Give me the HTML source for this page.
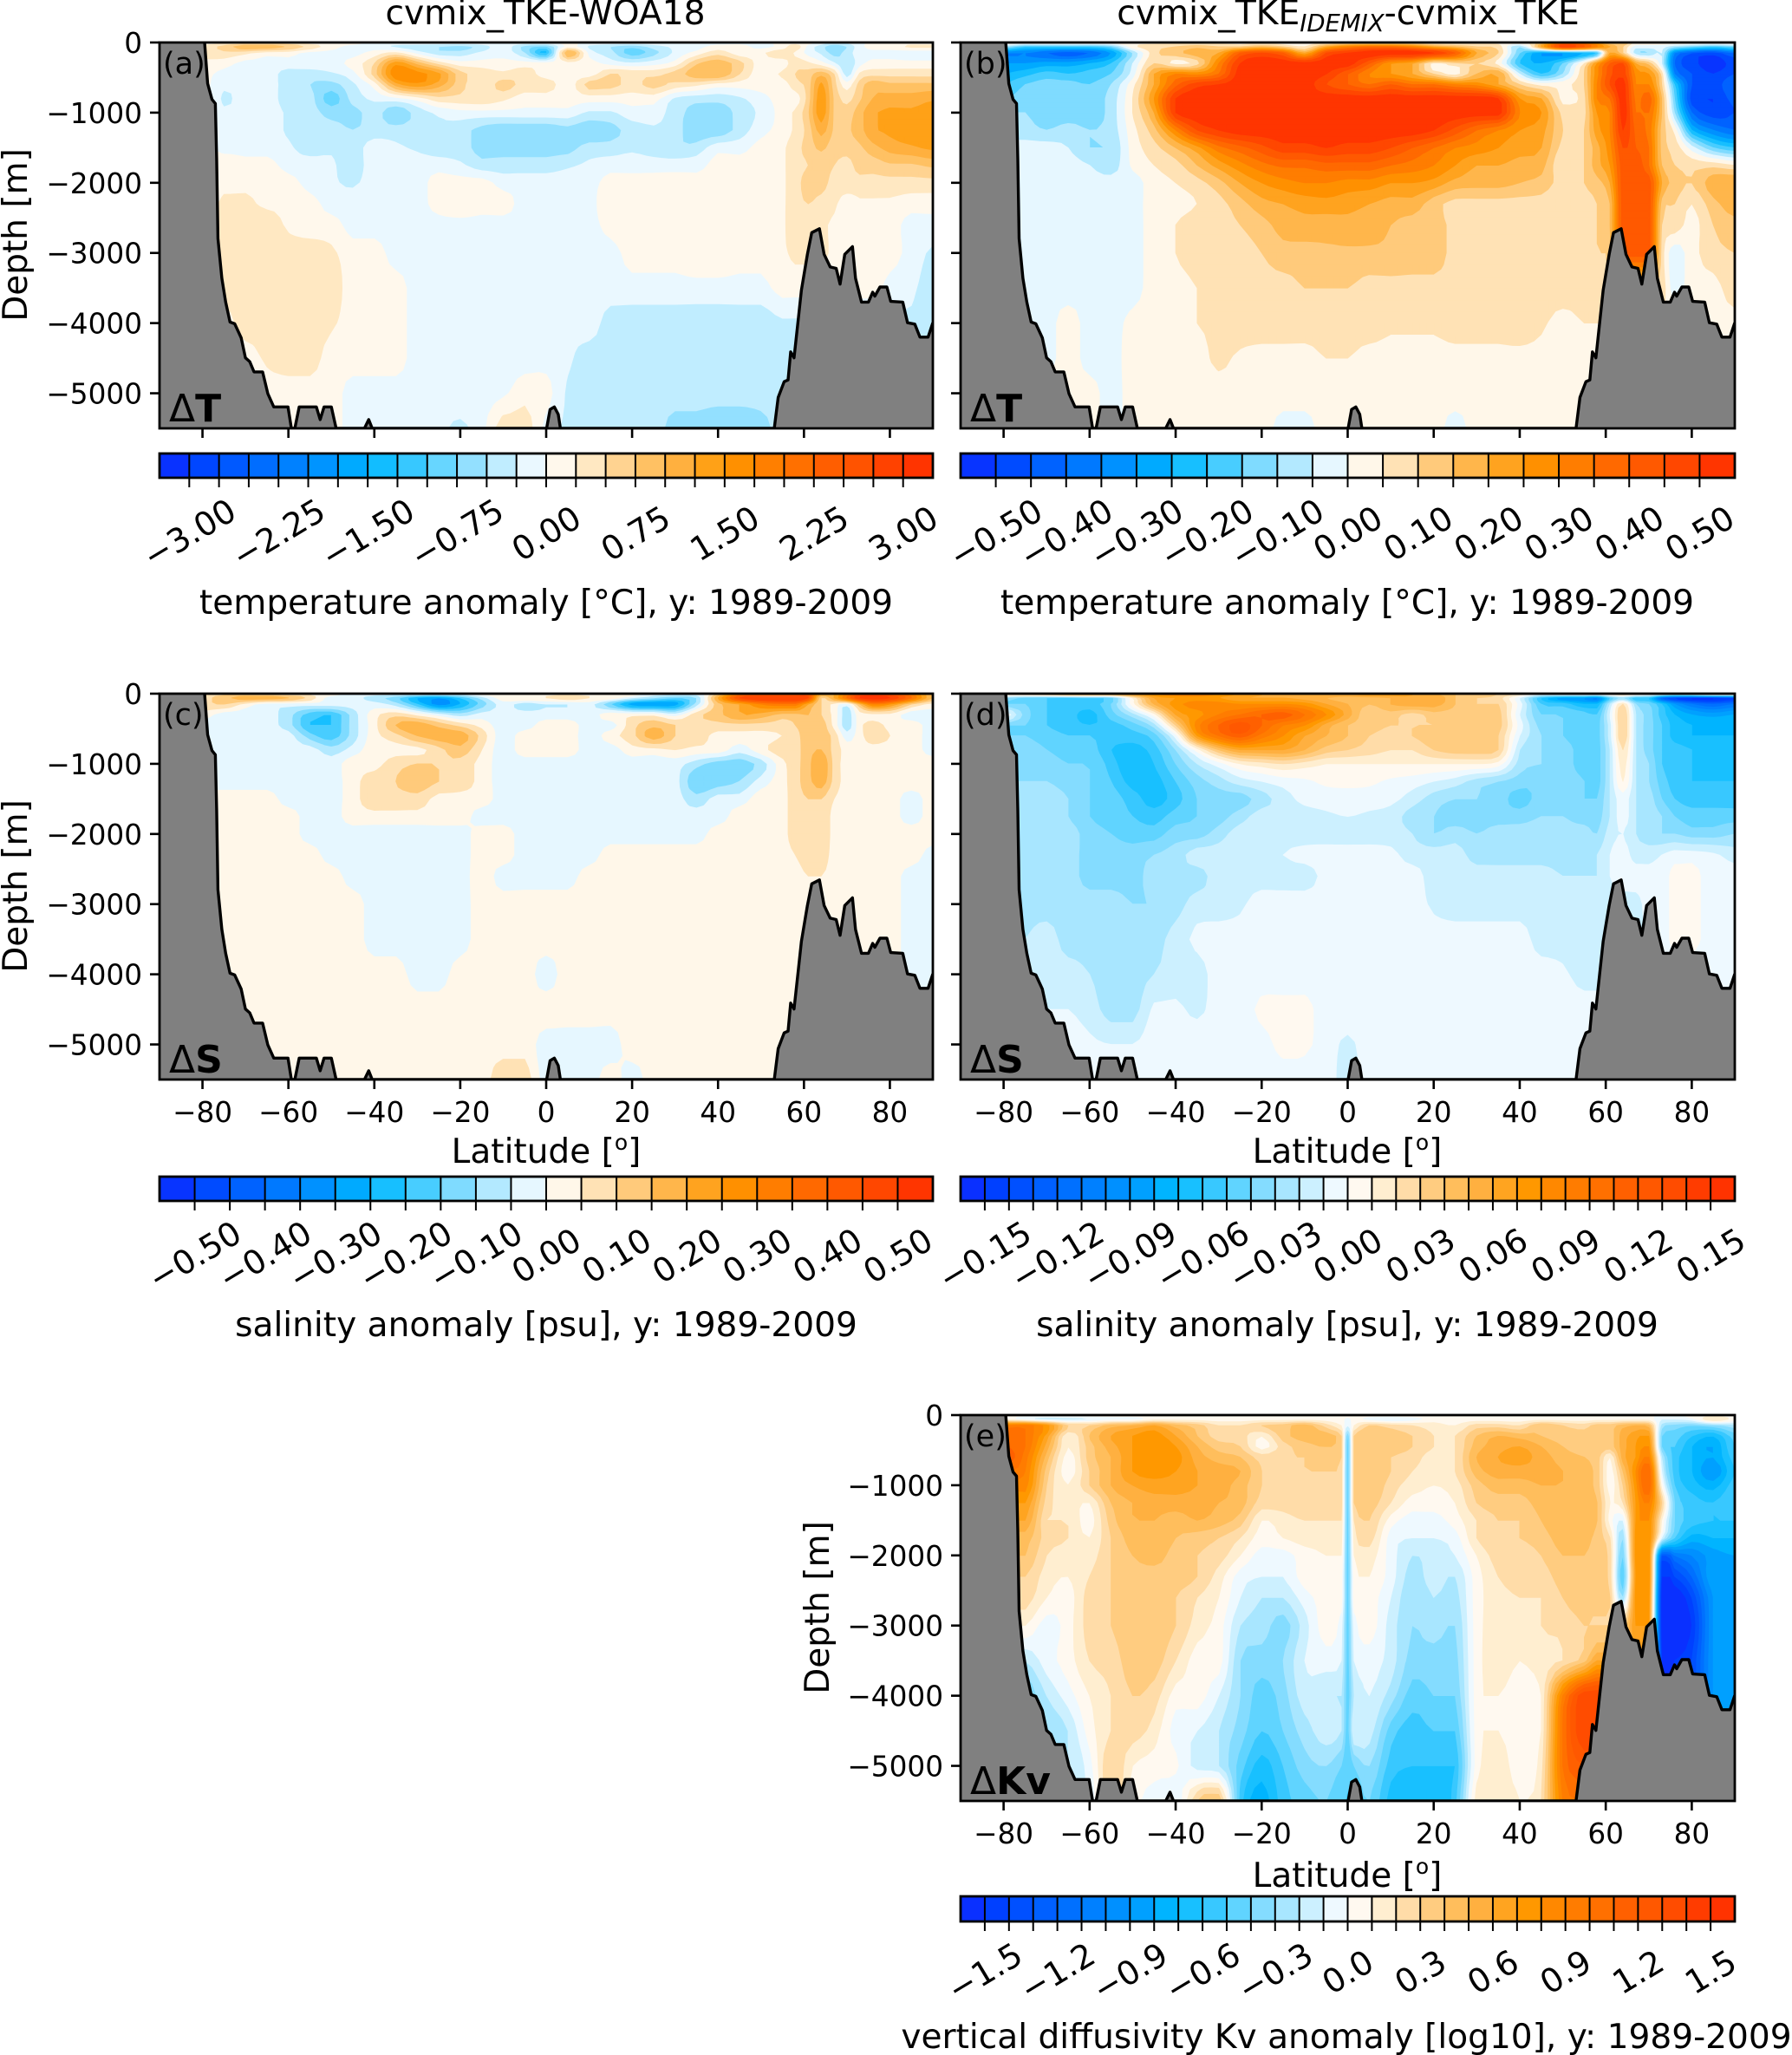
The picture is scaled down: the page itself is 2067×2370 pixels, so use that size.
<!DOCTYPE html>
<html lang="en">
<head>
<meta charset="utf-8">
<title>Ocean zonal-mean anomaly sections</title>
<style>
html,body{margin:0;padding:0;background:#fff;}
svg{display:block;}
text{font-family:"DejaVu Sans","Liberation Sans",sans-serif;fill:#000;}
</style>
</head>
<body>
<svg id="figure" xmlns="http://www.w3.org/2000/svg" width="2067" height="2370" viewBox="0 0 2067 2370">
<rect x="0" y="0" width="2067" height="2370" fill="#fff"/>
<g id="marks"></g>

<text x="629" y="28" font-size="39.2" text-anchor="middle">cvmix_TKE-WOA18</text>
<text x="1555" y="28" font-size="39.2" text-anchor="middle">cvmix_TKE<tspan font-size="27.5" font-style="italic" dy="8">IDEMIX</tspan><tspan dy="-8">-cvmix_TKE</tspan></text>

<text transform="translate(31 271) rotate(-90)" font-size="39" text-anchor="middle">Depth [m]</text>
<text transform="translate(31 1022) rotate(-90)" font-size="39" text-anchor="middle">Depth [m]</text>
<text transform="translate(956 1854) rotate(-90)" font-size="39" text-anchor="middle">Depth [m]</text>

<text x="630" y="1341" font-size="39" text-anchor="middle">Latitude [<tspan font-size="25" dy="-15">o</tspan><tspan dy="15">]</tspan></text>
<text x="1554" y="1341" font-size="39" text-anchor="middle">Latitude [<tspan font-size="25" dy="-15">o</tspan><tspan dy="15">]</tspan></text>
<text x="1554" y="2176" font-size="39" text-anchor="middle">Latitude [<tspan font-size="25" dy="-15">o</tspan><tspan dy="15">]</tspan></text>

<text x="630" y="708" font-size="39.1" text-anchor="middle">temperature anomaly [°C], y: 1989-2009</text>
<text x="1554" y="708" font-size="39.1" text-anchor="middle">temperature anomaly [°C], y: 1989-2009</text>
<text x="630" y="1541" font-size="39.1" text-anchor="middle">salinity anomaly [psu], y: 1989-2009</text>
<text x="1554" y="1541" font-size="39.1" text-anchor="middle">salinity anomaly [psu], y: 1989-2009</text>
<text x="1553" y="2362" font-size="39.1" text-anchor="middle">vertical diffusivity Kv anomaly [log10], y: 1989-2009</text>

<text x="188" y="85" font-size="35">(a)</text>
<text x="1112" y="85" font-size="35">(b)</text>
<text x="188" y="836" font-size="35">(c)</text>
<text x="1112" y="836" font-size="35">(d)</text>
<text x="1112" y="1668" font-size="35">(e)</text>

<text x="195" y="486" font-size="44">Δ<tspan font-weight="bold">T</tspan></text>
<text x="1119" y="486" font-size="44">Δ<tspan font-weight="bold">T</tspan></text>
<text x="195" y="1237" font-size="44">Δ<tspan font-weight="bold">S</tspan></text>
<text x="1119" y="1237" font-size="44">Δ<tspan font-weight="bold">S</tspan></text>
<text x="1119" y="2069" font-size="44">Δ<tspan font-weight="bold">Kv</tspan></text>
</svg>

<script>
/* ---------- shared coordinates (degrees, metres) ---------- */
const depthGrid = [0,60,150,300,450,600,800,1000,1250,1500,1750,2000,2300,2600,3000,3500,4000,4500,5000,5500];
const latGrid = [-80,-75,-70,-65,-60,-55,-50,-45,-40,-35,-30,-25,-20,-15,-10,-5,0,5,10,15,20,25,30,35,40,45,50,55,58,61,64,67,70,73,76,80,85,90];
const latGridKv = [-80,-75,-70,-65,-60,-55,-50,-45,-40,-35,-30,-25,-20,-15,-10,-5,-1.5,0,1.5,5,10,15,20,25,30,35,40,45,50,55,58,61,64,67,70,73,76,80,85,90];

const latTicks = [-80,-60,-40,-20,0,20,40,60,80];
const depthTicks = [0,-1000,-2000,-3000,-4000,-5000];

/* sea-floor profile */
const bathyLat = [-79.5,-78.8,-77.8,-77,-76.7,-76.4,-75.5,-74.6,-73.6,-72.5,-71,-70,-69,-68,-66,-64.8,-63.4,-60.1,-59.3,-58.5,-57.5,-53.5,-52.6,-51.7,-50,-48.9,-42.3,-41.3,-40.5,0.1,0.9,1.9,2.8,3.3,53.1,54,55.4,56.3,56.9,57.7,58.7,59.4,60.8,61.8,63.6,64.7,66.1,67.5,68.4,69.5,71.3,72,73.4,75,76,76.5,77.7,79.3,80.2,83,84.1,85.8,87,88.9,90];
const bathyDepth = [0,584,811,870,1660,2795,3360,3700,3985,4010,4210,4495,4550,4695,4695,5005,5195,5195,5500,5500,5195,5195,5375,5195,5195,5500,5500,5375,5500,5500,5230,5195,5300,5500,5500,5060,4835,4810,4410,4495,3930,3530,3020,2710,2655,3020,3200,3220,3445,3020,2910,3360,3700,3700,3560,3615,3485,3485,3690,3700,3995,4015,4200,4200,3995];

/* ---------- colour-bar definitions ---------- */
const colorbarMaxA = 3.25, colorbarStepA = 0.25;
const colorbarMaxB = 0.55, colorbarStepB = 0.05;
const colorbarMaxC = 0.55, colorbarStepC = 0.05;
const colorbarMaxD = 0.16, colorbarStepD = 0.01;
const colorbarMaxE = 1.6,  colorbarStepE = 0.1;

const colorbarLabelsA = [-3,-2.25,-1.5,-0.75,0,0.75,1.5,2.25,3];
const colorbarLabelsB = [-0.5,-0.4,-0.3,-0.2,-0.1,0,0.1,0.2,0.3,0.4,0.5];
const colorbarLabelsC = [-0.5,-0.4,-0.3,-0.2,-0.1,0,0.1,0.2,0.3,0.4,0.5];
const colorbarLabelsD = [-0.15,-0.12,-0.09,-0.06,-0.03,0,0.03,0.06,0.09,0.12,0.15];
const colorbarLabelsE = [-1.5,-1.2,-0.9,-0.6,-0.3,0,0.3,0.6,0.9,1.2,1.5];

const warmColors = ['#fff9f0','#ffeed0','#ffdca8','#ffcc80','#ffbe5c','#ffb040','#ffa420','#ff9800','#ff8800','#ff7c00','#ff7000','#ff6000','#ff5800','#ff4c00','#ff3c00','#ff3300'];
const coldColors = ['#eef9ff','#ccf0ff','#a8e6ff','#84dcff','#60d4ff','#38c8ff','#18c0ff','#00b4ff','#00a0ff','#0090ff','#0080ff','#0070ff','#0060ff','#0050ff','#0040ff','#0a30ff'];

/* ---------- (a) temperature anomaly, model minus WOA18 [degC]; rows=depthGrid, cols=latGrid ---------- */
const tempModelMinusObs = [
[.1,.1,.3,.3,.3,.1,.1,.1,-.1,-.1,  -.1,-.1,-.1,-.1,-.1,-.1,-.1,.1,-.1,-.1,  -.1,-.1,-.1,-.1,-.1,-.1,-.1,.1,  .1,.1,-.1,-.3,-.2,-.1,.1,.1,.1,.1],
[.3,.6,.9,.9,.7,.4,.1,-.1,-.1,-.3,  -.4,-.5,-.6,-.4,-.1,-.6,-.8,.1,-.3,-.5,  -.7,-.4,-.2,-.1,.1,.1,-.1,.1,  .4,-.1,-.4,-.7,-.5,-.1,.1,.1,.3,.3],
[.3,.4,.3,.1,.1,-.1,-.1,-.1,.1,.3,  -.1,-.4,-.4,-.2,-.1,-.5,-1.3,1,-.1,-.4,  -.9,-.6,-.2,.1,.4,.1,.2,.4,  .2,-.1,-.3,-.6,-.4,-.1,-.1,-.1,-.2,-.2],
[.2,.1,-.1,-.1,-.1,-.1,-.1,.1,.5,1.4,  .9,.4,.1,.1,.1,.1,.1,.1,.1,-.1,  -.2,-.1,.1,.7,.9,.6,.1,.1,  .4,.3,.1,-.2,-.5,-.1,.1,.1,.1,.1],
[.1,-.1,-.1,-.1,-.4,-.4,-.3,-.1,.6,1.7,  1.6,1.3,.6,.4,.3,.4,.1,.1,.1,.5,  .4,.4,.6,.9,1,.5,.1,.3,  .5,.6,.9,.5,-.4,.3,.4,.4,.4,.4],
[.1,-.2,-.1,-.1,-.4,-.5,-.6,-.3,.1,1.1,  1.4,1.1,.6,.3,.6,.4,.4,.1,.6,.6,  .4,.6,.4,.3,.1,.1,.1,.1,  .4,.6,1.3,.6,.1,.6,.9,.8,.8,.8],
[.1,-.3,-.1,-.1,-.4,-.4,-.9,-.4,-.2,-.1,  .1,.4,.4,.4,.3,.1,.1,.1,.1,.1,  .1,.1,-.3,-.4,-.4,-.3,-.1,.1,  .1,.6,1.4,.7,.4,.7,1,1.1,1.1,1.2],
[.1,-.2,-.1,-.1,-.3,-.4,-.6,-.6,-.4,-.7,  -.4,-.2,-.1,-.1,-.1,-.1,-.1,-.1,-.3,-.3,  -.1,-.1,-.4,-.6,-.7,-.4,-.2,.1,  .3,.7,1.4,.7,.6,.9,1.2,1.3,1.3,1.4],
[.1,-.1,-.1,-.1,-.3,-.4,-.4,-.5,-.4,-.4,  -.4,-.3,-.4,-.6,-.7,-.7,-.7,-.6,-.7,-.6,  -.4,-.3,-.4,-.7,-.7,-.4,-.1,.1,  .3,.6,1.1,.7,.7,.9,1.2,1.3,1.4,1.4],
[.1,-.1,-.1,-.1,-.2,-.4,-.3,-.4,-.1,-.2,  -.3,-.4,-.4,-.6,-.6,-.6,-.6,-.6,-.4,-.4,  -.3,-.4,-.5,-.4,-.1,-.1,.1,.2,  .4,.6,.8,.6,.6,.7,.9,1.1,1.2,1.3],
[.1,.2,.1,.1,-.1,-.1,-.2,-.4,-.1,-.1,  -.1,-.1,-.2,-.4,-.4,-.4,-.4,-.3,-.2,-.1,  -.1,-.1,-.1,-.1,.1,.1,.1,.2,  .4,.5,.6,.5,.4,.6,.6,.7,.7,.8],
[.1,.2,.2,.2,.1,-.1,-.2,-.3,-.1,-.1,  -.1,.1,.1,.1,-.1,-.1,-.1,-.1,-.1,.1,  .1,.1,.1,.1,.1,.1,.1,.2,  .4,.6,.6,.4,.4,.4,.4,.4,.4,.4],
[.1,.3,.3,.2,.2,.1,-.1,-.1,-.1,-.1,  -.1,.1,.2,.1,.1,-.1,-.1,-.1,-.1,.2,  .2,.2,.2,.2,.1,.1,.1,.2,  .4,.5,.4,.3,.1,.2,.2,.2,.1,.1],
[.1,.4,.4,.4,.2,.1,.1,-.1,-.1,-.1,  -.1,-.1,-.1,-.1,-.1,-.1,-.1,-.1,-.1,.1,  .2,.2,.2,.2,.2,.1,.1,.2,  .4,.4,.3,.2,.1,.1,.1,.1,-.1,-.1],
[.1,.4,.4,.4,.4,.4,.3,.1,.1,-.1,  -.1,-.1,-.1,-.1,-.1,-.1,-.1,-.1,-.1,-.1,  .1,.1,.1,.2,.2,.1,.1,.2,  .3,.3,.3,.2,.1,.1,.1,.1,-.1,-.3],
[.1,.4,.4,.4,.4,.4,.4,.1,.1,.1,  -.1,-.1,-.1,-.1,-.1,-.1,-.1,-.1,-.1,-.1,  -.1,-.1,-.1,-.1,-.1,-.1,-.1,.1,  .1,.1,.1,.1,.1,.1,.1,-.1,-.2,-.4],
[.1,.1,.4,.4,.4,.4,.3,.1,.1,.1,  -.1,-.1,-.1,-.1,-.1,-.1,-.1,-.2,-.1,-.4,  -.4,-.4,-.4,-.4,-.4,-.4,-.4,-.3,  -.3,-.3,-.3,-.3,-.3,-.3,-.3,-.3,-.3,-.4],
[.1,.1,.1,.3,.4,.4,.1,.1,.1,.1,  -.1,-.1,-.1,-.1,-.1,-.1,-.1,-.2,-.4,-.4,  -.4,-.4,-.4,-.4,-.4,-.4,-.4,-.4,  -.4,-.4,-.4,-.4,-.4,-.4,-.4,-.4,-.4,-.4],
[.1,.1,.1,.1,.1,.1,.1,-.1,-.1,-.1,  -.1,-.1,-.1,-.1,-.05,.15,.1,-.3,-.4,-.4,  -.4,-.4,-.4,-.4,-.4,-.4,-.4,-.4,  -.4,-.4,-.4,-.4,-.4,-.4,-.4,-.4,-.4,-.4],
[.1,.1,.1,.1,.1,.1,.1,-.1,-.1,-.1,  -.2,-.2,-.3,-.1,.4,.4,-.1,-.3,-.4,-.4,  -.4,-.4,-.6,-.6,-.7,-.7,-.6,-.4,  -.4,-.4,-.4,-.4,-.4,-.4,-.4,-.4,-.4,-.4]
];

/* ---------- (b) temperature anomaly, IDEMIX minus TKE [degC] ---------- */
const tempIdemixMinusTke = [
[.03,.03,.03,.03,.03,.03,.03,.03,.03,.03,  .03,.03,.03,.03,.03,.03,.03,.03,.03,.03,  .03,.03,.03,.03,.03,.1,.3,.3,  .2,.1,.15,.03,.03,.03,.03,.03,.03,.03],
[-.1,-.2,-.2,-.2,-.2,-.15,.03,.08,.1,.13,  .1,.1,.15,.1,.05,.2,.3,.35,.35,.3,  .2,.15,.1,.08,-.1,.2,.48,.4,  .3,.2,.1,-.03,-.03,-.03,-.1,-.15,-.2,-.15],
[-.35,-.35,-.4,-.43,-.4,-.3,-.1,.08,.13,.18,  .2,.4,.45,.4,.2,.45,.5,.53,.53,.53,  .5,.4,.2,.1,-.15,-.3,-.3,-.25,  -.2,.2,.1,-.08,-.1,-.05,-.35,-.45,-.48,-.4],
[-.3,-.3,-.28,-.28,-.25,-.2,-.05,.1,.03,.08,  .3,.5,.53,.53,.53,.53,.53,.4,.25,.2,  .03,.08,.1,.03,-.2,-.25,-.15,.05,  .25,.4,.45,.2,.13,-.05,-.4,-.48,-.53,-.48],
[-.25,-.22,-.18,-.2,-.18,-.15,-.03,.2,.3,.28,  .35,.53,.53,.53,.53,.5,.4,.3,.25,.2,  .1,.03,.15,.2,-.05,-.2,-.1,.1,  .28,.43,.48,.28,.25,.08,-.35,-.45,-.5,-.45],
[-.2,-.15,-.13,-.13,-.15,-.1,.03,.2,.38,.48,  .5,.53,.53,.53,.53,.45,.4,.35,.4,.35,  .35,.3,.28,.2,.1,.03,.03,.1,  .3,.45,.53,.3,.3,.1,-.2,-.45,-.48,-.4],
[-.15,-.13,-.13,-.13,-.13,-.08,.05,.25,.5,.53,  .53,.53,.53,.53,.53,.53,.53,.53,.53,.53,  .53,.53,.53,.5,.25,.2,.03,.08,  .3,.35,.53,.33,.38,.15,-.15,-.48,-.5,-.43],
[-.1,-.1,-.13,-.13,-.13,-.08,.05,.2,.5,.53,  .53,.53,.53,.53,.53,.53,.53,.53,.53,.53,  .53,.53,.53,.53,.3,.25,.08,.08,  .25,.3,.53,.35,.35,.15,-.1,-.4,-.48,-.45],
[-.08,-.08,-.1,-.08,-.1,-.08,.03,.13,.3,.45,  .5,.53,.53,.53,.53,.53,.53,.53,.53,.53,  .5,.43,.35,.3,.25,.22,.1,.1,  .23,.3,.5,.38,.33,.13,.03,-.25,-.35,-.4],
[-.03,-.03,-.03,-.05,-.1,-.1,.02,.08,.15,.23,  .33,.38,.43,.48,.48,.5,.48,.48,.45,.4,  .35,.3,.28,.25,.22,.2,.08,.1,  .18,.28,.45,.4,.35,.13,.08,-.03,-.15,-.2],
[-.03,-.03,-.03,-.03,-.05,-.08,.01,.05,.08,.15,  .22,.28,.33,.36,.36,.38,.38,.38,.35,.33,  .3,.25,.2,.2,.18,.17,.05,.1,  .18,.25,.43,.43,.35,.15,.1,.08,.08,.05],
[-.03,-.03,-.03,-.03,-.03,-.03,-.03,.03,.05,.08,  .13,.2,.25,.28,.3,.3,.28,.28,.25,.25,  .23,.18,.17,.17,.15,.13,.08,.1,  .13,.2,.43,.43,.43,.2,.13,.1,.18,.2],
[-.03,-.03,-.03,-.03,-.03,-.03,-.03,.03,.03,.05,  .08,.13,.18,.2,.22,.23,.22,.2,.18,.18,  .12,.08,.08,.08,.08,.08,.05,.08,  .1,.15,.43,.43,.43,.13,.1,.05,.13,.18],
[-.03,-.03,-.03,-.03,-.03,-.03,-.03,.03,.05,.08,  .08,.1,.13,.17,.18,.17,.18,.17,.15,.13,  .13,.08,.08,.08,.08,.08,.08,.08,  .1,.15,.43,.43,.43,.1,.08,.03,.1,.13],
[-.03,-.03,-.03,-.03,-.03,-.03,-.03,.03,.05,.08,  .08,.08,.1,.13,.13,.14,.14,.14,.14,.13,  .13,.08,.08,.08,.08,.08,.08,.08,  .1,.13,.43,.43,.43,.08,-.03,.03,.08,.1],
[-.03,-.03,-.03,-.03,-.03,-.03,-.03,.03,.03,.05,  .08,.08,.08,.08,.1,.1,.1,.08,.08,.08,  .08,.08,.08,.08,.08,.08,.08,.08,  .08,.08,.08,.08,.08,.08,-.03,.03,.03,.08],
[-.03,-.03,-.03,.03,-.03,-.03,.02,.03,.03,.05,  .06,.08,.08,.08,.08,.08,.08,.08,.06,.06,  .06,.08,.08,.08,.09,.06,.03,.05,  .05,.05,.05,.05,.05,.05,.03,.03,.03,.03],
[-.03,-.03,-.03,.03,-.03,-.03,.03,.03,.03,.03,  .06,.04,.03,.03,.03,.05,.05,.03,.03,.03,  .03,.03,.03,.03,.03,.03,.03,.03,  .03,.03,.03,.03,.03,.03,.03,.03,.03,.03],
[.03,.03,.03,.03,.03,-.03,.03,.03,.03,.03,  .03,.03,.03,.03,.03,.03,.03,.03,.03,.03,  .03,.03,.03,.03,.03,.03,.03,.03,  .03,.03,.03,.03,.03,.03,.03,.03,.03,.03],
[.03,.03,.03,.03,.03,-.03,.03,.03,.03,.03,  .03,.03,.03,-.03,-.03,.03,.03,.03,.03,.03,  .03,-.03,.03,.03,.03,.03,.03,.03,  .03,.03,.03,.03,.03,.03,.03,.03,.03,.03]
];

/* ---------- (c) salinity anomaly, model minus WOA18 [psu] ---------- */
const saltModelMinusObs = [
[.08,.08,.08,.05,.03,.03,.03,-.03,-.03,-.03,  -.03,-.03,-.03,.03,.03,.03,.03,.03,.03,.03,  .03,-.03,-.03,-.03,.1,.3,.35,.35,  .35,.4,.2,.2,.3,.4,.45,.4,.3,.15],
[.08,.13,.18,.18,.15,.08,-.03,-.03,-.08,-.13,  -.25,-.3,-.2,-.08,.03,.05,.05,.08,.05,.03,  -.05,-.1,-.15,-.1,.2,.45,.5,.5,  .5,.45,.1,.2,.35,.5,.53,.5,.35,.15],
[.08,.1,.03,-.03,-.03,-.03,-.03,-.03,-.03,-.08,  -.2,-.33,-.25,-.13,-.03,-.08,-.05,-.05,-.03,-.15,  -.28,-.3,-.28,-.08,.13,.2,.3,.33,  .33,.2,.1,.03,-.03,.15,.3,.25,.1,.03],
[.03,-.03,-.03,-.03,-.08,-.18,-.2,-.08,.03,.08,  .03,-.03,-.08,-.03,-.03,-.03,-.03,-.03,-.03,.03,  .03,.03,-.03,.08,.13,.2,.18,.13,  .13,.15,.1,.03,-.08,.03,.03,.03,-.03,-.03],
[-.03,-.03,-.03,-.03,-.08,-.2,-.2,-.08,.03,.15,  .18,.13,.08,.03,-.03,-.03,.03,.03,-.03,-.03,  .08,.13,.1,.08,.08,.08,.08,.08,  .1,.13,.13,.03,-.08,.03,.08,.03,.03,-.03],
[-.03,-.03,-.03,-.03,-.03,-.13,-.18,-.08,.03,.08,  .15,.18,.18,.08,-.03,.03,.03,.03,-.03,.03,  .08,.18,.1,.08,.03,.03,.03,.05,  .08,.13,.13,.08,-.03,.03,.08,.05,.03,-.03],
[-.03,-.03,-.03,-.03,-.03,-.03,-.08,-.03,.03,.03,  .03,.08,.13,.05,-.03,.03,.03,.03,-.03,-.03,  .03,.03,.05,.03,.03,-.03,.03,.08,  .08,.13,.15,.08,.03,.03,.03,.03,.03,-.03],
[-.03,-.03,-.03,-.03,-.03,-.03,-.03,.03,.03,.08,  .1,.1,.08,.03,-.03,-.03,-.03,-.03,-.03,-.03,  -.03,-.03,-.03,-.08,-.13,-.13,-.08,.03,  .08,.13,.2,.08,.03,.03,.03,.03,.03,.03],
[-.03,-.03,-.03,-.03,-.03,-.03,-.03,.03,.08,.1,  .13,.1,.08,.03,-.03,-.03,-.03,-.03,-.03,-.03,  -.03,-.03,-.03,-.15,-.13,-.1,-.03,.03,  .08,.13,.18,.08,.03,.03,.03,.03,.03,.03],
[.03,.03,.03,.03,-.03,-.03,-.03,.03,.08,.08,  .08,.03,.03,.03,-.03,-.03,-.03,-.03,-.03,-.03,  -.03,-.03,-.03,-.08,-.03,-.03,.03,.03,  .08,.1,.1,.05,.03,.03,.03,.03,-.03,.03],
[.03,.03,.03,.03,.03,-.03,-.03,.03,.03,.03,  .03,.03,.03,-.03,-.03,-.03,-.03,-.03,-.03,-.03,  -.03,-.03,-.03,-.03,-.03,.03,.03,.03,  .08,.1,.1,.03,.03,.03,.03,.03,-.03,.03],
[.03,.03,.03,.03,.03,-.03,-.03,-.03,-.03,-.03,  -.03,-.03,-.03,.03,.03,-.03,-.03,-.03,-.03,-.03,  -.03,-.03,-.03,-.03,.03,.03,.03,.03,  .08,.1,.1,.03,.03,.03,.03,.03,.03,.03],
[.03,.03,.03,.03,.03,.03,-.03,-.03,-.03,-.03,  -.03,-.03,-.03,.03,.03,-.03,-.03,-.03,-.03,.03,  .03,.03,.03,.03,.03,.03,.03,.03,  .05,.08,.08,.03,.03,.03,.03,.03,.03,-.03],
[.03,.03,.03,.03,.03,.03,.03,-.03,-.03,-.03,  -.03,-.03,-.03,.03,-.03,-.03,-.03,-.03,.03,.03,  .03,.03,.03,.03,.03,.03,.03,.03,  .03,.05,.05,.03,.03,.03,.03,.03,-.03,-.03],
[.03,.03,.03,.03,.03,.03,.03,.03,-.03,-.03,  -.03,-.03,-.03,.03,.03,.03,.03,.03,.03,.03,  .03,.03,.03,.03,.03,.03,.03,.03,  .03,.03,.03,.03,.03,.03,.03,.03,-.03,-.03],
[.03,.03,.03,.03,.03,.03,.03,.03,-.03,-.03,  -.03,-.03,-.03,.03,.03,.03,.03,.03,.03,.03,  .03,.03,.03,.03,.03,.03,.03,.03,  .03,.03,.03,.03,.03,.03,.03,.03,-.03,-.03],
[.03,.03,.03,.03,.03,.03,.03,.03,.03,.03,  -.03,-.03,.03,.03,.03,.03,-.03,.03,.03,.03,  .03,.03,.03,.03,.03,.03,.03,.03,  .03,.03,.03,.03,.03,.03,.03,.03,-.03,-.03],
[.03,.03,.03,.03,.03,.03,.03,.03,.03,.03,  .03,.03,.03,.03,.03,.03,.03,.03,.03,.03,  .03,.03,.03,.03,.03,.03,.03,.03,  .03,.03,.03,.03,.03,.03,.03,.03,-.03,-.03],
[.03,.03,.03,.03,.03,.03,.03,.03,.03,.03,  .03,.03,.03,.03,.03,.03,-.03,-.03,-.03,-.03,  .03,.03,.03,.03,.03,.03,.03,.03,  .03,.03,.03,.03,.03,.03,.03,.03,.03,.03],
[.03,.03,.03,.03,.03,.03,.03,.03,.03,.03,  .03,.03,.03,.03,.08,.08,-.03,-.03,-.03,.03,  -.03,.03,.03,.03,.03,.03,.03,.03,  .03,.03,.03,.03,.03,.03,.03,.03,.03,.03]
];

/* ---------- (d) salinity anomaly, IDEMIX minus TKE [psu] ---------- */
const saltIdemixMinusTke = [
[.02,.03,.04,.06,.06,.06,.07,.08,.09,.09,  .08,.07,.06,.06,.06,.06,.06,.07,.07,.06,  .05,.04,.04,.03,.02,0,.01,.01,  .01,.02,.03,.02,.01,.01,0,.01,.03,.03],
[-.03,-.045,-.05,-.055,-.05,-.045,.01,.06,.07,.075,  .07,.06,.06,.06,.055,.05,.045,.045,.05,.06,  .06,.04,.03,.025,-.01,-.06,-.085,-.09,  -.1,-.05,-.03,-.06,-.06,-.12,-.14,-.15,-.15,-.14],
[-.04,-.04,-.05,-.055,-.055,-.04,.005,.05,.075,.085,  .085,.08,.08,.08,.075,.06,.05,.04,.05,.055,  .055,.04,.03,.03,-.005,-.05,-.055,-.07,  -.07,-.02,.02,-.03,-.04,-.06,-.09,-.11,-.12,-.11],
[0,-.035,-.05,-.055,-.065,-.045,-.025,.005,.06,.075,  .09,.1,.11,.115,.1,.08,.055,.03,.035,.025,  .035,.035,.04,.035,-.01,-.04,-.04,-.045,  -.05,-.01,.03,-.02,-.035,-.055,-.07,-.08,-.085,-.08],
[-.04,-.04,-.05,-.055,-.06,-.055,-.045,-.025,.03,.085,  .11,.125,.11,.09,.08,.055,.04,.035,.03,.03,  .03,.035,.035,.035,-.005,-.035,-.04,-.045,  -.045,-.015,.03,-.02,-.035,-.05,-.065,-.07,-.07,-.07],
[-.04,-.04,-.045,-.05,-.05,-.055,-.055,-.045,-.005,.07,  .1,.115,.095,.08,.06,.05,.04,.03,.025,.03,  .035,.035,.035,.03,-.01,-.03,-.04,-.045,  -.045,-.015,.03,-.02,-.035,-.05,-.065,-.07,-.07,-.07],
[-.035,-.035,-.04,-.045,-.045,-.06,-.065,-.055,-.03,.005,  .04,.06,.06,.06,.05,.035,.03,.025,.02,.02,  .03,.035,.035,.03,-.02,-.03,-.035,-.045,  -.045,-.02,.02,-.02,-.035,-.05,-.055,-.06,-.065,-.065],
[-.035,-.035,-.035,-.04,-.04,-.055,-.07,-.06,-.04,-.02,  -.005,.01,.015,.02,.015,.01,.01,.01,.01,.01,  .01,.01,.01,.005,-.025,-.03,-.035,-.045,  -.045,-.02,.015,-.02,-.03,-.05,-.055,-.06,-.065,-.065],
[-.03,-.03,-.03,-.035,-.04,-.05,-.065,-.065,-.05,-.035,  -.025,-.015,-.01,-.005,-.002,.002,.003,.002,-.002,-.005,  -.01,-.015,-.025,-.03,-.035,-.04,-.035,-.04,  -.045,-.02,.01,-.02,-.03,-.045,-.055,-.06,-.06,-.06],
[-.025,-.025,-.025,-.03,-.04,-.045,-.055,-.065,-.055,-.04,  -.035,-.035,-.025,-.015,-.007,-.005,-.005,-.005,-.007,-.015,  -.025,-.03,-.03,-.035,-.045,-.035,-.03,-.04,  -.04,-.02,-.005,-.02,-.025,-.04,-.05,-.055,-.055,-.055],
[-.02,-.02,-.025,-.03,-.04,-.045,-.05,-.055,-.045,-.04,  -.035,-.025,-.015,-.015,-.015,-.012,-.01,-.012,-.015,-.025,  -.03,-.035,-.035,-.035,-.035,-.03,-.03,-.035,  -.035,-.02,-.005,-.02,-.025,-.03,-.04,-.045,-.045,-.045],
[-.025,-.025,-.025,-.025,-.035,-.04,-.045,-.045,-.035,-.035,  -.025,-.015,-.015,-.015,-.015,-.015,-.015,-.015,-.015,-.02,  -.03,-.025,-.03,-.025,-.025,-.025,-.025,-.025,  -.03,-.015,-.01,-.02,-.025,-.03,-.03,-.035,-.035,-.03],
[-.025,-.025,-.025,-.025,-.035,-.035,-.035,-.03,-.025,-.015,  -.015,-.015,-.015,-.01,-.007,-.005,-.005,-.005,-.007,-.015,  -.015,-.015,-.025,-.025,-.025,-.025,-.025,-.02,  -.02,-.01,-.005,-.015,-.015,-.01,-.005,-.005,-.008,-.015],
[-.025,-.025,-.025,-.025,-.035,-.035,-.035,-.025,-.025,-.025,  -.015,-.015,-.015,-.015,-.015,-.007,-.005,-.005,-.005,-.005,  -.015,-.015,-.015,-.015,-.015,-.015,-.02,-.02,  -.02,-.01,-.005,-.005,-.005,-.005,.003,.003,-.005,-.005],
[-.025,-.025,-.025,-.025,-.025,-.025,-.03,-.03,-.025,-.015,  -.015,-.012,-.005,-.005,-.005,-.005,-.005,-.005,-.005,-.005,  -.012,-.015,-.015,-.015,-.015,-.015,-.015,-.015,  -.015,-.015,-.015,-.015,-.005,-.005,.003,.003,-.005,-.005],
[-.02,-.02,-.015,-.025,-.025,-.025,-.025,-.025,-.015,-.008,  -.005,-.005,-.005,-.005,-.005,-.005,-.005,-.005,-.005,-.005,  -.005,-.005,-.005,-.005,-.005,-.015,-.015,-.02,  -.02,-.02,-.02,-.02,-.005,-.005,.003,.003,-.005,-.005],
[-.015,-.015,-.015,-.015,-.02,-.025,-.025,-.02,-.015,-.015,  -.005,-.005,-.005,-.005,-.005,-.005,-.005,-.005,-.005,-.005,  -.005,-.005,-.005,-.005,-.005,-.005,-.008,-.015,  -.015,-.015,-.015,-.015,-.015,-.005,-.005,-.005,-.005,-.005],
[-.01,-.01,-.01,-.01,-.015,-.025,-.025,-.008,-.008,-.012,  -.006,-.005,.002,.003,.003,-.005,-.005,-.005,-.005,-.005,  -.005,-.005,-.005,-.005,-.005,-.005,-.005,-.005,  -.005,-.005,-.005,-.005,-.005,-.005,-.005,-.005,-.005,-.005],
[-.005,-.005,-.005,-.005,-.008,-.01,-.01,-.005,-.005,-.005,  -.005,-.005,-.004,.003,.002,-.005,-.012,-.005,-.005,-.005,  -.005,-.005,-.005,-.005,-.005,-.005,-.005,-.005,  -.005,-.005,-.005,-.005,-.005,-.005,-.005,-.005,-.005,-.005],
[-.005,-.005,-.005,-.005,-.005,-.005,-.005,-.005,-.005,-.005,  -.005,-.005,-.005,-.005,-.005,-.005,-.015,-.005,-.005,-.005,  -.005,-.005,-.005,-.005,-.005,-.005,-.005,-.005,  -.005,-.005,-.005,-.005,-.005,-.005,-.005,-.005,-.005,-.005]
];

/* ---------- (e) log10 Kv anomaly; rows=depthGrid, cols=latGridKv ---------- */
const kvIdemixMinusTke = [
[.05,.05,.05,.05,.05,.05,.05,.05,.05,.05,  .05,.05,.05,.05,.05,.05,  .05,.05,.05,  .05,.05,.05,.05,.05,.05,.05,.05,.05,.05,.05,  .05,.05,.05,.05,.05,-.05,-.05,.05,.05,.05],
[.05,-.05,-.15,-.15,-.1,-.05,-.05,.05,.05,.05,  .05,.05,.05,.05,.05,.05,  .05,-.05,.05,  -.05,-.1,-.05,.05,.05,.05,.05,.05,.05,.05,.05,  .05,.05,.05,.05,.05,-.1,-.1,-.05,.2,.05],
[.9,.95,.75,.3,.3,.45,.5,.6,.45,.35,  .2,.2,.3,.35,.45,.25,  .1,-.1,.1,  .3,.25,.2,.15,.1,.25,.25,.2,.4,.3,.25,  .35,.35,.45,.5,.45,-.25,-.35,-.4,-.35,-.25],
[1.1,1,.65,.1,.4,.6,.7,.75,.6,.4,  .25,.25,.1,.35,.45,.45,  .3,-.4,.3,  .4,.35,.3,.2,.2,.4,.5,.45,.4,.35,.35,  .4,.35,.55,.65,.7,-.4,-.45,-.6,-.7,-.45],
[1.1,1,.55,.1,.35,.55,.7,.8,.7,.5,  .35,.3,.05,.25,.35,.4,  .3,-.45,.3,  .4,.35,.3,.2,.2,.45,.55,.6,.5,.4,.35,  .4,.35,.55,.7,.8,-.4,-.5,-.7,-.8,-.5],
[1.2,.95,.45,.05,.35,.5,.7,.8,.75,.55,  .45,.4,.25,.3,.3,.35,  .3,-.45,.3,  .35,.3,.25,.15,.2,.5,.6,.65,.55,.45,.4,  .35,.1,.55,.7,.9,-.2,-.55,-.7,-.8,-.55],
[1,.9,.35,.05,.3,.5,.7,.75,.7,.6,  .55,.5,.3,.3,.3,.3,  .25,-.45,.3,  .4,.3,.2,.15,.2,.45,.55,.55,.55,.5,.45,  .35,.05,.4,.8,1.1,-.1,-.55,-.7,-.9,-.6],
[.85,.85,.3,.1,.3,.5,.6,.65,.65,.6,  .55,.45,.3,.3,.3,.3,  .25,-.45,.3,  .4,.25,.15,.1,.15,.35,.45,.45,.5,.5,.45,  .35,.05,.3,.75,1.1,.05,-.5,-.65,-.75,-.55],
[.7,.7,.25,.15,.1,.4,.5,.55,.55,.55,  .5,.45,.25,.25,.3,.3,  .25,-.45,.3,  .35,.2,.05,.05,.1,.3,.35,.35,.45,.5,.5,  .4,.1,.2,.7,.9,.3,-.4,-.55,-.6,-.5],
[.6,.6,.2,.2,.05,.35,.5,.5,.45,.5,  .45,.35,.1,.15,.2,.2,  .2,-.45,.2,  .3,.05,-.05,-.05,.05,.2,.3,.3,.4,.5,.5,  .4,.05,-.1,.7,.8,.1,-.4,-.55,-.6,-.6],
[.45,.45,.25,.2,.1,.3,.45,.5,.4,.35,  .3,.2,.05,.1,.15,.15,  .15,-.45,.15,  .25,-.05,-.1,-.1,-.05,.2,.3,.3,.35,.45,.45,  .35,.2,-.3,.75,.8,-.1,-.5,-.75,-.7,-.7],
[.4,.4,.2,.15,.15,.3,.4,.45,.35,.3,  .25,.1,-.05,-.05,.05,.1,  .1,-.45,.1,  .15,-.05,-.2,-.15,-.1,.1,.25,.25,.3,.4,.4,  .35,.25,-.4,.75,.8,-1.3,-1.1,-1,-.85,-.8],
[.3,.3,.15,.1,.2,.3,.35,.35,.35,.3,  .15,-.05,-.1,-.1,.05,.1,  .05,-.45,.05,  .1,-.05,-.25,-.15,-.2,.05,.2,.25,.25,.35,.4,  .35,.25,-.5,.7,.8,-1.5,-1.4,-1.2,-.8,-.8],
[.25,.25,.1,.05,.25,.3,.35,.35,.3,.2,  .1,-.1,-.2,-.2,-.05,.05,  .05,-.45,.05,  .05,-.1,-.3,-.2,-.25,.05,.15,.2,.2,.3,.35,  .35,.3,-.3,.75,.75,-1.6,-1.6,-1.4,-.9,-.8],
[.1,.1,-.05,.05,.25,.3,.35,.35,.3,.15,  .05,-.2,-.25,-.35,-.15,.05,  -.05,-.45,-.05,  .05,-.15,-.3,-.25,-.3,.05,.15,.15,.2,.25,.3,  .3,.3,.3,.7,.7,-1.6,-1.6,-1.5,-.9,-.8],
[-.2,-.2,-.05,.05,.2,.25,.35,.35,.2,.05,  .05,-.3,-.35,-.3,-.1,-.05,  -.1,-.45,-.1,  -.05,-.15,-.35,-.35,-.35,.05,.15,.1,.15,.2,.35,  .6,.6,.3,.7,.7,-1.5,-1.5,-1.4,-.9,-.8],
[-.4,-.4,-.2,-.05,.1,.2,.3,.25,.05,.05,  -.1,-.3,-.45,-.35,-.15,-.2,  -.2,-.45,-.2,  -.1,-.25,-.45,-.4,-.4,.05,.1,.05,.1,.9,1.4,  1.4,1.4,1.4,1.4,1.4,-1.5,-1.5,-1.4,-.9,-.8],
[-.3,-.3,-.3,-.2,.05,.2,.25,.15,-.05,-.1,  -.2,-.35,-.5,-.4,-.25,-.15,  -.2,-.45,-.1,  -.15,-.45,-.55,-.5,-.5,.05,.1,.05,.1,1,1.4,  1.4,1.4,1.4,1.4,1.4,-1.5,-1.5,-1.4,-.9,-.8],
[-.2,-.2,-.2,-.2,-.05,.3,.1,.05,.02,-.15,  -.2,-.45,-.65,-.5,-.35,-.3,  -.4,-.5,-.4,  -.3,-.55,-.6,-.6,-.6,.05,.15,.05,.15,1,1.2,  1.2,1.2,1.2,1.2,1.2,-1.5,-1.5,-1.4,-.9,-.8],
[-.1,-.1,-.1,-.1,-.1,.3,.05,-.05,-.1,.3,  .4,-.55,-.75,-.55,-.45,-.4,  -.5,-.5,-.5,  -.4,-.65,-.7,-.7,-.55,.15,.2,.1,.2,.9,1,  1,1,1,1,1,-1.5,-1.5,-1.4,-.9,-.8]
];

/* ---------- layout (pixels, separate from the data) ---------- */
const panelA = {id:'a',L:184,R:1076,T:49,B:494,barT:523,barB:551,lats:latGrid,values:tempModelMinusObs,max:colorbarMaxA,step:colorbarStepA,labels:colorbarLabelsA,dec:2,labelOffset:64,showX:false,showY:true};
const panelB = {id:'b',L:1108,R:2001,T:49,B:494,barT:523,barB:551,lats:latGrid,values:tempIdemixMinusTke,max:colorbarMaxB,step:colorbarStepB,labels:colorbarLabelsB,dec:2,labelOffset:64,showX:false,showY:false};
const panelC = {id:'c',L:184,R:1076,T:800,B:1245,barT:1357,barB:1385,lats:latGrid,values:saltModelMinusObs,max:colorbarMaxC,step:colorbarStepC,labels:colorbarLabelsC,dec:2,labelOffset:63,showX:true,showY:true};
const panelD = {id:'d',L:1108,R:2001,T:800,B:1245,barT:1357,barB:1385,lats:latGrid,values:saltIdemixMinusTke,max:colorbarMaxD,step:colorbarStepD,labels:colorbarLabelsD,dec:2,labelOffset:63,showX:true,showY:false};
const panelE = {id:'e',L:1108,R:2001,T:1632,B:2077,barT:2187,barB:2216,lats:latGridKv,values:kvIdemixMinusTke,max:colorbarMaxE,step:colorbarStepE,labels:colorbarLabelsE,dec:1,labelOffset:58,showX:true,showY:true};

const NS = 'http://www.w3.org/2000/svg';
const marks = document.getElementById('marks');
const SUBDIV = 3;

function svgEl(tag, attrs, parent) {
  const el = document.createElementNS(NS, tag);
  for (const k in attrs) el.setAttribute(k, attrs[k]);
  (parent || marks).appendChild(el);
  return el;
}
function hexToRgb(h) {
  return [parseInt(h.slice(1,3),16), parseInt(h.slice(3,5),16), parseInt(h.slice(5,7),16)];
}
function colormap(t) {
  const list = t >= 0 ? warmColors : coldColors;
  let idx = Math.abs(t) * list.length - 0.5;
  idx = Math.max(0, Math.min(list.length - 1, idx));
  const i = Math.floor(idx), f = idx - i;
  const a = hexToRgb(list[i]), b = hexToRgb(list[Math.min(i + 1, list.length - 1)]);
  return 'rgb(' + a.map((v, k) => Math.round(v + (b[k] - v) * f)).join(',') + ')';
}
function fmtTick(v, dec) {
  const s = Math.abs(v).toFixed(dec);
  return v < 0 ? '\u2212' + s : s;
}

/* clamped Catmull-Rom resampling of one sequence */
function resample(seq, n) {
  const out = [];
  for (let i = 0; i < seq.length - 1; i++) {
    const p0 = seq[Math.max(i - 1, 0)], p1 = seq[i], p2 = seq[i + 1], p3 = seq[Math.min(i + 2, seq.length - 1)];
    for (let s = 0; s < n; s++) {
      const f = s / n, f2 = f * f, f3 = f2 * f;
      const v = 0.5 * (2 * p1 + (p2 - p0) * f + (2 * p0 - 5 * p1 + 4 * p2 - p3) * f2 + (3 * p1 - p0 - 3 * p2 + p3) * f3);
      out.push(Math.max(Math.min(p1, p2), Math.min(Math.max(p1, p2), v)));
    }
  }
  out.push(seq[seq.length - 1]);
  return out;
}
function resampleLinear(seq, n) {
  const out = [];
  for (let i = 0; i < seq.length - 1; i++) {
    for (let s = 0; s < n; s++) out.push(seq[i] + (seq[i + 1] - seq[i]) * s / n);
  }
  out.push(seq[seq.length - 1]);
  return out;
}
function upsampleGrid(values, nCols) {
  const rows = values.map(r => {
    const full = [];
    for (let i = 0; i < nCols; i++) full.push(i < r.length ? r[i] : r[r.length - 1]);
    return resample(full, SUBDIV);
  });
  const width = rows[0].length;
  const cols = [];
  for (let i = 0; i < width; i++) cols.push(resample(rows.map(r => r[i]), SUBDIV));
  return cols; /* cols[i][j] */
}

/* region where value >= level, as marching-squares polygons with merged full runs */
function bandPath(cols, xs, ys, level) {
  const parts = [];
  for (let j = 0; j < ys.length - 1; j++) {
    let runStart = -1;
    for (let i = 0; i < xs.length - 1; i++) {
      const vals = [cols[i][j], cols[i+1][j], cols[i+1][j+1], cols[i][j+1]];
      const full = vals.every(v => v >= level);
      if (full) {
        if (runStart < 0) runStart = i;
        continue;
      }
      if (runStart >= 0) {
        parts.push('M' + xs[runStart].toFixed(1) + ' ' + ys[j].toFixed(1) + 'H' + xs[i].toFixed(1) + 'V' + ys[j+1].toFixed(1) + 'H' + xs[runStart].toFixed(1) + 'Z');
        runStart = -1;
      }
      if (vals.every(v => v < level)) continue;
      const px = [xs[i], xs[i+1], xs[i+1], xs[i]], py = [ys[j], ys[j], ys[j+1], ys[j+1]];
      const pts = [];
      for (let k = 0; k < 4; k++) {
        const n = (k + 1) % 4;
        if (vals[k] >= level) pts.push(px[k].toFixed(1) + ' ' + py[k].toFixed(1));
        if ((vals[k] >= level) !== (vals[n] >= level)) {
          const f = (level - vals[k]) / (vals[n] - vals[k]);
          pts.push((px[k] + (px[n] - px[k]) * f).toFixed(1) + ' ' + (py[k] + (py[n] - py[k]) * f).toFixed(1));
        }
      }
      parts.push('M' + pts.join('L') + 'Z');
    }
    if (runStart >= 0) {
      const last = xs.length - 1;
      parts.push('M' + xs[runStart].toFixed(1) + ' ' + ys[j].toFixed(1) + 'H' + xs[last].toFixed(1) + 'V' + ys[j+1].toFixed(1) + 'H' + xs[runStart].toFixed(1) + 'Z');
    }
  }
  return parts.join('');
}

function drawPanel(p) {
  const sx = lat => p.L + (lat + 90) / 180 * (p.R - p.L);
  const sy = depth => p.T + depth / 5500 * (p.B - p.T);
  const nBins = Math.round(2 * p.max / p.step);
  const binColor = k => colormap((-p.max + (k + 0.5) * p.step) / p.max);

  const group = svgEl('g', {});
  
  

  const clip = svgEl('clipPath', {id: 'clip-' + p.id}, group);
  
  
  const clipRect = svgEl('rect', {x: p.L, y: p.T, width: p.R - p.L, height: p.B - p.T}, clip);
  
  

  const plot = svgEl('g', {'clip-path': 'url(#clip-' + p.id + ')'}, group);
  
  

  const base = svgEl('rect', {x: p.L, y: p.T, width: p.R - p.L, height: p.B - p.T, fill: binColor(0)}, plot);
  
  

  const fineCols = upsampleGrid(p.values, p.lats.length);
  const xs = resampleLinear(p.lats, SUBDIV).map(sx);
  const ys = resampleLinear(depthGrid, SUBDIV).map(sy);
  for (let k = 1; k < nBins; k++) {
    const level = -p.max + k * p.step + 1e-9;
    const d = bandPath(fineCols, xs, ys, level);
    if (!d) continue;
    const c = binColor(k);
    const band = svgEl('path', {d: d, fill: c, stroke: c, 'stroke-width': 0.8, 'stroke-linejoin': 'round'}, plot);
    
    
  }

  /* sea floor */
  let floor = 'M' + sx(-90) + ' ' + sy(0);
  let line = '';
  bathyLat.forEach((lat, i) => {
    const seg = sx(lat).toFixed(1) + ' ' + sy(bathyDepth[i]).toFixed(1);
    floor += 'L' + seg;
    line += (i ? 'L' : 'M') + seg;
  });
  floor += 'L' + sx(90) + ' ' + sy(5500) + 'L' + sx(-90) + ' ' + sy(5500) + 'Z';
  const land = svgEl('path', {d: floor, fill: '#808080'}, plot);
  
  
  const coast = svgEl('path', {d: line, fill: 'none', stroke: '#000', 'stroke-width': 3.4, 'stroke-linejoin': 'round'}, plot);
  
  

  const frame = svgEl('rect', {x: p.L, y: p.T, width: p.R - p.L, height: p.B - p.T, fill: 'none', stroke: '#000', 'stroke-width': 2.8}, group);
  
  

  latTicks.forEach(lat => {
    const t = svgEl('line', {x1: sx(lat), x2: sx(lat), y1: p.B, y2: p.B + 11, stroke: '#000', 'stroke-width': 2.6}, group);
    
    
    if (p.showX) {
      const lab = svgEl('text', {x: sx(lat), y: p.B + 49, 'font-size': 32.7, 'text-anchor': 'middle'}, group);
      
      
      lab.textContent = fmtTick(lat, 0);
    }
  });
  depthTicks.forEach(dep => {
    const yy = sy(-dep);
    const t = svgEl('line', {x1: p.L - 11, x2: p.L, y1: yy, y2: yy, stroke: '#000', 'stroke-width': 2.6}, group);
    
    
    if (p.showY) {
      const lab = svgEl('text', {x: p.L - 20, y: yy + 12, 'font-size': 32.7, 'text-anchor': 'end'}, group);
      
      
      lab.textContent = fmtTick(dep, 0);
    }
  });

  /* colour bar */
  const bar = svgEl('g', {}, group);
  
  
  const cx = v => p.L + (v + p.max) / (2 * p.max) * (p.R - p.L);
  for (let k = 0; k < nBins; k++) {
    const x0 = cx(-p.max + k * p.step), x1 = cx(-p.max + (k + 1) * p.step);
    const swatch = svgEl('rect', {x: x0, y: p.barT, width: x1 - x0 + 0.5, height: p.barB - p.barT, fill: binColor(k)}, bar);
    
    
  }
  for (let k = 1; k < nBins; k++) {
    const x = cx(-p.max + k * p.step);
    const div = svgEl('line', {x1: x, x2: x, y1: p.barT, y2: p.barB + 11, stroke: '#000', 'stroke-width': 2}, bar);
    
    
  }
  const barFrame = svgEl('rect', {x: p.L, y: p.barT, width: p.R - p.L, height: p.barB - p.barT, fill: 'none', stroke: '#000', 'stroke-width': 2.8}, bar);
  
  
  p.labels.forEach(v => {
    const lab = svgEl('text', {transform: 'translate(' + cx(v).toFixed(1) + ' ' + (p.barB + p.labelOffset) + ') rotate(-31)', y: 13.5, 'font-size': 38, 'text-anchor': 'middle'}, bar);
    
    
    lab.textContent = fmtTick(v, p.dec);
  });
}

drawPanel(panelA);
drawPanel(panelB);
drawPanel(panelC);
drawPanel(panelD);
drawPanel(panelE);
</script>
</body>
</html>
